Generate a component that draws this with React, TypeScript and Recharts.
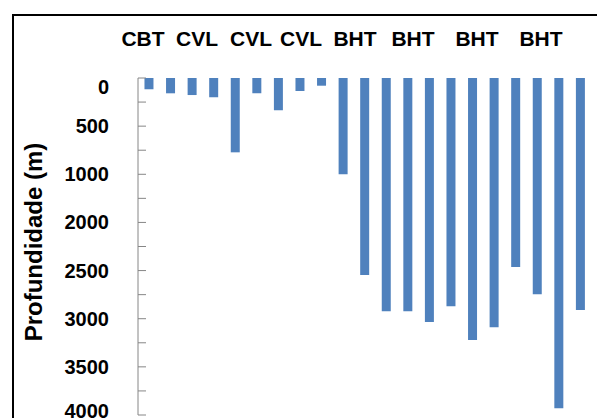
import { Bar, BarChart, XAxis, YAxis } from 'recharts'

// wells in the order they appear, left to right
const wells = [
  'P01', 'P02', 'P03', 'P04', 'P05', 'P06', 'P07', 'P08', 'P09', 'P10', 'P11',
  'P12', 'P13', 'P14', 'P15', 'P16', 'P17', 'P18', 'P19', 'P20', 'P21',
]
const depths = [117, 159, 177, 200, 772, 159, 335, 135, 80, 1000, 2046, 2423, 2423, 2534, 2371, 2721, 2589, 1963, 2247, 3430, 2410]

const depthTicks = [0, 250, 500, 750, 1000, 1250, 1500, 1750, 2000, 2250, 2500, 2750, 3000, 3250, 3500]
// labels as printed on the original axis (one on every other tick)
const depthLabels = ['0', '500', '1000', '2000', '2500', '3000', '3500', '4000']

const groupLabels = ['CBT', 'CVL', 'CVL', 'CVL', 'BHT', 'BHT', 'BHT', 'BHT']
const groupCenters = [143, 197, 251, 301, 355, 413, 477, 541]

const data = wells.map((well, i) => ({ well, depth: depths[i] }))

function DepthTick({ x, y, index }: { x: number; y: number; index: number }) {
  const major = index % 2 === 0
  // first label sits a bit below the zero line, last one a bit above its tick
  const shift = index === 0 ? 9 : index === depthTicks.length - 1 ? -4 : 0
  return (
    <g>
      <line x1={x} x2={x + 8} y1={y} y2={y} stroke="#868686" />
      {major && (
        <text
          x={x - 29}
          y={y + shift}
          dy="0.35em"
          textAnchor="end"
          fontWeight="bold"
          fontSize={20}
          fill="#000"
        >
          {depthLabels[index / 2]}
        </text>
      )}
    </g>
  )
}

export default function App() {
  return (
    <div
      style={{
        position: 'absolute',
        left: 0,
        top: 0,
        width: 597,
        height: 418,
        overflow: 'hidden',
        background: '#fff',
        fontFamily: '"Liberation Sans", Arial, sans-serif',
      }}
    >
      <div
        style={{
          position: 'absolute',
          left: 12,
          top: 14,
          width: 640,
          height: 460,
          border: '2px solid #000',
        }}
      />
      {groupLabels.map((g, i) => (
        <span
          key={i}
          style={{
            position: 'absolute',
            left: groupCenters[i] - 40,
            width: 80,
            top: 28,
            textAlign: 'center',
            fontWeight: 'bold',
            fontSize: 21,
            lineHeight: '22px',
            color: '#000',
          }}
        >
          {g}
        </span>
      ))}
      <div
        style={{
          position: 'absolute',
          left: 34 - 130,
          top: 242 - 14,
          width: 260,
          height: 28,
          lineHeight: '28px',
          textAlign: 'center',
          transform: 'rotate(-90deg)',
          fontWeight: 'bold',
          fontSize: 24,
          color: '#000',
        }}
      >
        Profundidade (m)
      </div>
      <div style={{ position: 'absolute', left: 0, top: 0 }}>
        <BarChart
          width={597}
          height={420}
          data={data}
          margin={{ top: 78, right: 6, bottom: 5, left: 0 }}
          barCategoryGap="30%"
        >
          <XAxis
            dataKey="well"
            orientation="top"
            height={0}
            tick={false}
            tickLine={false}
            axisLine={{ stroke: '#000', strokeWidth: 1.5 }}
          />
          <YAxis
            reversed
            domain={[0, 3500]}
            ticks={depthTicks}
            interval={0}
            width={138}
            tickSize={0}
            tickMargin={0}
            tickLine={false}
            axisLine={{ stroke: '#868686' }}
            tick={(p: any) => <DepthTick x={p.x} y={p.y} index={p.index} />}
          />
          <Bar dataKey="depth" fill="#4F81BD" isAnimationActive={false} />
        </BarChart>
      </div>
    </div>
  )
}
